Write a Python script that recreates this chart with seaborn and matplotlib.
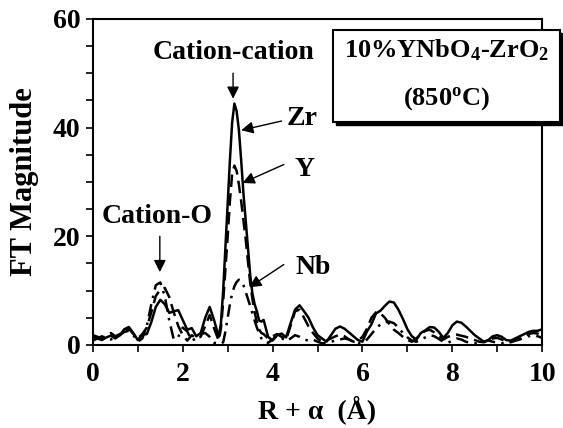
import numpy as np
import pandas as pd
import matplotlib
matplotlib.use("Agg")
import matplotlib.pyplot as plt
from matplotlib.patches import Rectangle
import seaborn as sns

# R + alpha grid (finer around the main cation-cation peak)
r_values = [0.0, 0.1, 0.2, 0.3, 0.4, 0.5, 0.6, 0.7, 0.8, 0.9,
            1.0, 1.1, 1.2, 1.3, 1.4, 1.5, 1.6, 1.7, 1.8, 1.9,
            2.0, 2.1, 2.2, 2.3, 2.4, 2.5, 2.6, 2.7, 2.8,
            2.85, 2.9, 2.95, 3.0, 3.05, 3.1, 3.15, 3.2, 3.25, 3.3,
            3.35, 3.4, 3.45, 3.5, 3.55, 3.6, 3.65, 3.7, 3.75, 3.8,
            3.9, 4.0, 4.1, 4.2, 4.3, 4.4, 4.5, 4.6, 4.7, 4.8, 4.9,
            5.0, 5.1, 5.2, 5.3, 5.4, 5.5, 5.6, 5.7, 5.8, 5.9,
            6.0, 6.1, 6.2, 6.3, 6.4, 6.5, 6.6, 6.7, 6.8, 6.9,
            7.0, 7.1, 7.2, 7.3, 7.4, 7.5, 7.6, 7.7, 7.8, 7.9,
            8.0, 8.1, 8.2, 8.3, 8.4, 8.5, 8.6, 8.7, 8.8, 8.9,
            9.0, 9.1, 9.2, 9.3, 9.4, 9.5, 9.6, 9.7, 9.8, 9.9, 10.0]

# Zr edge (solid)
zr_ft = [1.5, 1.2, 0.9, 1.4, 1.7, 1.2, 1.8, 2.9, 3.3, 2.2,
         0.9, 1.9, 2.0, 4.2, 7.0, 8.3, 7.5, 5.9, 6.2, 6.4,
         4.6, 2.8, 3.1, 1.6, 2.2, 5.0, 7.0, 4.5, 1.5,
         4.0, 10.0, 18.0, 26.0, 34.0, 41.0, 44.4, 43.0, 39.5, 34.0,
         28.0, 23.0, 18.0, 13.0, 9.5, 7.5, 6.2, 4.5, 4.3, 4.6,
         1.5, 0.8, 1.8, 2.1, 1.4, 4.0, 6.5, 7.3, 6.2, 5.0, 3.2,
         1.8, 1.2, 0.6, 1.8, 3.0, 3.4, 3.0, 2.3, 1.6, 0.9,
         0.6, 2.5, 3.8, 5.8, 6.3, 7.2, 8.0, 7.8, 6.5, 4.8,
         2.9, 1.6, 1.0, 2.2, 2.7, 3.3, 3.2, 2.4, 1.3, 2.2,
         3.6, 4.3, 4.1, 3.4, 2.6, 1.8, 1.2, 0.6, 0.9, 1.6,
         1.8, 1.5, 0.9, 0.8, 1.2, 1.6, 2.0, 2.4, 2.6, 2.6, 2.9]

# Y edge (dashed)
y_ft = [1.8, 1.5, 1.3, 1.6, 2.2, 1.6, 2.0, 2.6, 3.0, 2.0,
        1.2, 2.0, 3.2, 6.0, 9.0, 10.2, 10.5, 8.8, 6.0, 3.5,
        1.8, 0.8, 1.8, 1.2, 1.5, 3.5, 5.5, 3.0, 0.8,
        3.0, 8.0, 14.0, 20.0, 26.5, 31.5, 33.0, 32.0, 29.5, 26.5,
        23.0, 19.5, 15.5, 11.5, 8.5, 6.0, 4.2, 2.8, 2.2, 2.0,
        1.2, 1.6, 2.0, 1.5, 1.0, 3.5, 6.2, 6.5, 5.0, 3.4, 2.2,
        1.2, 0.6, 0.8, 1.2, 1.6, 1.9, 1.6, 1.0, 0.6, 0.8,
        1.5, 3.0, 5.0, 6.0, 5.8, 5.0, 3.8, 2.8, 2.2, 1.5,
        0.9, 0.6, 1.2, 2.0, 2.6, 2.8, 2.3, 1.7, 1.0, 1.5,
        1.8, 1.9, 1.7, 1.5, 1.2, 0.9, 0.6, 0.5, 0.8, 1.2,
        1.3, 1.0, 0.6, 0.5, 0.8, 1.2, 1.6, 2.0, 2.2, 2.1, 1.6]

# Nb edge (dash-dot)
nb_ft = [0.8, 1.2, 1.6, 1.2, 1.0, 1.4, 1.8, 2.4, 2.6, 1.8,
         0.6, 1.2, 3.5, 7.5, 11.0, 11.5, 9.0, 4.5, 1.0, 1.5,
         3.2, 2.5, 0.8, 1.2, 2.0, 2.2, 1.5, 0.4, 0.3,
         0.2, 0.5, 2.5, 5.0, 7.5, 9.5, 10.8, 11.6, 12.0, 11.8,
         11.0, 9.8, 8.5, 7.2, 5.8, 4.5, 3.2, 2.2, 1.2, 0.6,
         0.4, 1.0, 1.8, 1.3, 0.7, 1.2, 1.8, 1.5, 1.0, 0.8, 1.0,
         0.6, 0.3, 0.4, 0.6, 0.8, 1.0, 1.2, 1.0, 0.6, 0.3,
         0.4, 1.0, 2.0, 3.0, 3.8, 4.2, 4.3, 4.0, 3.2, 2.2,
         1.4, 0.8, 0.6, 1.0, 1.4, 1.8, 1.6, 1.1, 0.6, 0.4,
         0.8, 1.2, 1.0, 0.6, 0.4, 0.3, 0.4, 0.6, 0.8, 0.6,
         0.4, 0.3, 0.4, 0.6, 0.8, 1.0, 1.3, 1.6, 1.8, 1.6, 1.3]

edges = ["Zr", "Y", "Nb"]

sns.set_style("ticks")
plt.rcParams['font.family'] = ['Liberation Serif', 'DejaVu Serif']
plt.rcParams['font.weight'] = 'bold'
plt.rcParams['text.color'] = 'black'
plt.rcParams['axes.labelcolor'] = 'black'
plt.rcParams['mathtext.fontset'] = 'custom'
plt.rcParams['mathtext.rm'] = 'Liberation Serif:bold'
plt.rcParams['mathtext.bf'] = 'Liberation Serif:bold'
plt.rcParams['mathtext.it'] = 'Liberation Serif:bold'
plt.rcParams['mathtext.default'] = 'bf'

df = pd.DataFrame({
    "R": r_values * 3,
    "FT": zr_ft + y_ft + nb_ft,
    "edge": [e for e in edges for _ in r_values],
})

fig = plt.figure(figsize=(5.63, 4.28), dpi=100)
ax = fig.add_axes([0.165, 0.194, 0.798, 0.762])

sns.lineplot(data=df, x="R", y="FT", style="edge", style_order=edges,
             dashes={"Zr": "", "Y": (5, 2.5), "Nb": (5, 2.5, 1, 2.5)},
             color="black", linewidth=1.8, legend=False, ax=ax)

ax.set_xlim(0, 10)
ax.set_ylim(0, 60)
ax.set_xticks([0, 2, 4, 6, 8, 10])
ax.set_xticks(np.arange(0, 11, 1), minor=True)
ax.set_yticks([0, 20, 40, 60])
ax.set_yticks(np.arange(0, 61, 5), minor=True)
ax.tick_params(which='both', direction='out', length=5, width=1.2,
               colors='black', labelsize=20, pad=4)
ax.tick_params(axis='x', which='major', pad=7)
for sp in ax.spines.values():
    sp.set_linewidth(1.5)
    sp.set_color('black')

ax.set_xlabel("R + α  (Å)", fontsize=20, fontweight='bold', labelpad=6)
ax.set_ylabel("FT Magnitude", fontsize=22, fontweight='bold', labelpad=10)

arrow = dict(arrowstyle='-|>', color='black', lw=1.0, mutation_scale=18,
             shrinkA=0, shrinkB=0)
ax.annotate("", xy=(3.12, 45.3), xytext=(3.12, 50.0), arrowprops=arrow)
ax.text(3.12, 53.8, "Cation-cation", ha='center', va='center', fontsize=20)
ax.annotate("", xy=(3.3, 39.5), xytext=(4.2, 41.2), arrowprops=arrow)
ax.text(4.65, 41.7, "Zr", ha='center', va='center', fontsize=20)
ax.annotate("", xy=(3.33, 29.8), xytext=(4.25, 33.2), arrowprops=arrow)
ax.text(4.72, 32.2, "Y", ha='center', va='center', fontsize=20)
ax.annotate("", xy=(3.48, 10.6), xytext=(4.25, 14.8), arrowprops=arrow)
ax.text(4.9, 14.2, "Nb", ha='center', va='center', fontsize=20)
ax.annotate("", xy=(1.49, 13.4), xytext=(1.49, 20.0), arrowprops=arrow)
ax.text(1.43, 23.7, "Cation-O", ha='center', va='center', fontsize=20)

# boxed sample label with a drop shadow
shadow = Rectangle((0.542, 0.675), 0.505, 0.282, transform=ax.transAxes,
                   facecolor='black', edgecolor='black', clip_on=False, zorder=5)
box = Rectangle((0.535, 0.684), 0.505, 0.282, transform=ax.transAxes,
                facecolor='white', edgecolor='black', linewidth=1.5,
                clip_on=False, zorder=6)
ax.add_patch(shadow)
ax.add_patch(box)
ax.text(0.787, 0.905, r"10%YNbO$_\mathbf{4}$-ZrO$_\mathbf{2}$", transform=ax.transAxes,
        ha='center', va='center', fontsize=19, zorder=7)
ax.text(0.787, 0.755, r"(850$^\mathbf{o}$C)", transform=ax.transAxes,
        ha='center', va='center', fontsize=19, zorder=7)

fig.savefig("out.png", dpi=100)
